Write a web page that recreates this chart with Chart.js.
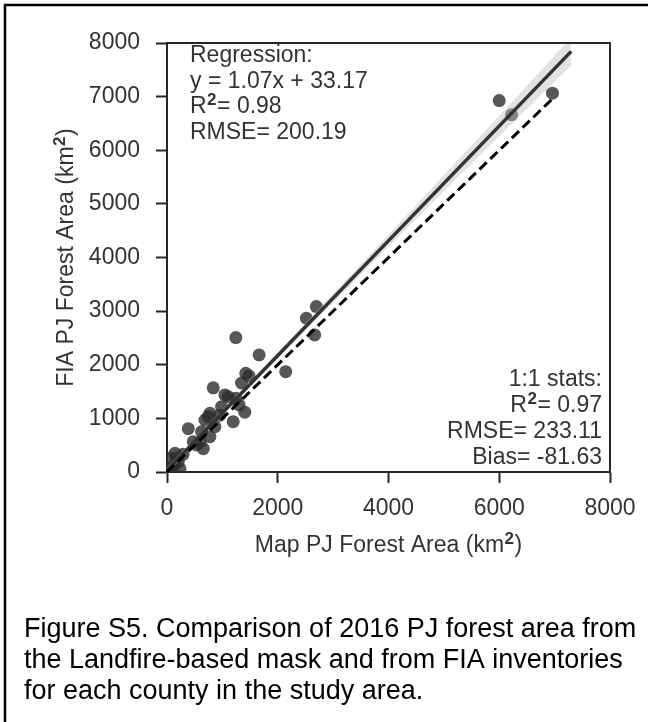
<!DOCTYPE html>
<html>
<head>
<meta charset="utf-8">
<script src="https://cdn.jsdelivr.net/npm/chart.js@4.4.1/dist/chart.umd.min.js"></script>
<style>
  html, body { margin: 0; padding: 0; background: #fff; }
  #wrap { width: 648px; height: 722px; position: relative; }
</style>
</head>
<body>
<div id="wrap"><canvas id="figS5"></canvas></div>
<script>
// county values (km2)
const mapArea = [40, 54, 114, 144, 170, 204, 234, 290, 384, 474, 535, 600, 625, 655, 685, 745, 775, 775, 835, 865,
  950, 985, 1045, 1105, 1195, 1243, 1243, 1303, 1345, 1405, 1423, 1483, 1664, 2144, 2517, 2667, 2697, 6000, 6222, 6961];
const fiaArea = [60, 255, 99, 349, 260, 193, 60, 330, 808, 566, 504, 560, 752, 435, 970, 1032, 1095, 659, 1570, 846,
  1060, 1219, 1437, 1405, 939, 1375, 2506, 1250, 1660, 1115, 1841, 1791, 2183, 1871, 2867, 2556, 3084, 6927, 6660, 7065];

// fitted line y = 1.07x + 33.17 and its confidence band
const regX = [0, 7300];
const regY = [33, 7844];
const bandX = [0, 1000, 2000, 3000, 4000, 5000, 6000, 7300];
const bandUpper = [98, 1148, 2228, 3323, 4423, 5533, 6643, 8104];
const bandLower = [-32, 1058, 2118, 3163, 4203, 5233, 6263, 7584];
const oneToOne = [0, 7000];

const xTicks = [0, 2000, 4000, 6000, 8000];
const yTicks = [0, 1000, 2000, 3000, 4000, 5000, 6000, 7000, 8000];
const xTitle = 'Map PJ Forest Area (km\u00b2)';
const yTitle = 'FIA PJ Forest Area (km\u00b2)';
const regressionStats = ['Regression:', 'y = 1.07x + 33.17', 'R\u00b2= 0.98', 'RMSE= 200.19'];
const oneToOneStats = ['1:1 stats:', 'R\u00b2= 0.97', 'RMSE= 233.11', 'Bias= -81.63'];
const captionLines = [
  'Figure S5. Comparison of 2016 PJ forest area from',
  'the Landfire-based mask and from FIA inventories',
  'for each county in the study area.'
];

const FONT = "'Liberation Sans', Arial, sans-serif";
const INK = '#262626';
const SIZE = 23;

const pairs = (xs, ys) => xs.map((x, i) => ({ x: x, y: ys[i] }));

// text with a bold raised "2" in place of the superscript sign
function drawRich(ctx, text, x, y, align) {
  const parts = text.split('\u00b2');
  const normal = SIZE + 'px ' + FONT;
  const sup = 'bold ' + Math.round(SIZE * 0.72) + 'px ' + FONT;
  let total = 0;
  parts.forEach((p, i) => {
    ctx.font = normal; total += ctx.measureText(p).width;
    if (i < parts.length - 1) { ctx.font = sup; total += ctx.measureText('2').width + 1; }
  });
  let cx = align === 'right' ? x - total : align === 'center' ? x - total / 2 : x;
  ctx.textAlign = 'left';
  ctx.textBaseline = 'middle';
  parts.forEach((p, i) => {
    ctx.font = normal; ctx.fillText(p, cx, y); cx += ctx.measureText(p).width;
    if (i < parts.length - 1) {
      ctx.font = sup; ctx.fillText('2', cx + 0.5, y - SIZE * 0.3); cx += ctx.measureText('2').width + 1;
    }
  });
}

// frame, top/right spines, axis titles, stats text and caption
const decorations = {
  id: 'decorations',
  afterDraw(chart) {
    const { ctx, chartArea } = chart;
    ctx.save();
    ctx.strokeStyle = INK;
    ctx.lineWidth = 2;
    ctx.beginPath();
    ctx.moveTo(chartArea.left, chartArea.top);
    ctx.lineTo(chartArea.right, chartArea.top);
    ctx.lineTo(chartArea.right, chartArea.bottom);
    ctx.stroke();

    ctx.fillStyle = '#333';
    regressionStats.forEach((t, i) => drawRich(ctx, t, chartArea.left + 23, chartArea.top + 13 + i * 25.5, 'left'));
    oneToOneStats.forEach((t, i) => drawRich(ctx, t, chartArea.right - 8, chartArea.bottom - 14 - (3 - i) * 26, 'right'));

    drawRich(ctx, xTitle, (chartArea.left + chartArea.right) / 2, 546, 'center');
    ctx.save();
    ctx.translate(67, (chartArea.top + chartArea.bottom) / 2);
    ctx.rotate(-Math.PI / 2);
    drawRich(ctx, yTitle, 0, 0, 'center');
    ctx.restore();

    ctx.strokeStyle = '#000';
    ctx.lineWidth = 2.5;
    ctx.strokeRect(5, 5, 700, 800);

    ctx.fillStyle = '#000';
    ctx.font = '27px ' + FONT;
    ctx.textAlign = 'left';
    ctx.textBaseline = 'alphabetic';
    captionLines.forEach((t, i) => ctx.fillText(t, 24, 637 + i * 31));
    ctx.restore();
  }
};

const axisStyle = (ticks, tickPad) => ({
  type: 'linear',
  min: 0,
  max: 8000,
  afterBuildTicks: (scale) => { scale.ticks = ticks.map(v => ({ value: v })); },
  ticks: { color: '#333', font: { family: FONT, size: SIZE }, padding: tickPad, callback: (v) => String(v) },
  grid: { display: true, drawOnChartArea: false, drawTicks: true, tickLength: 11, tickColor: INK, tickWidth: 2 },
  border: { display: true, color: INK, width: 2 },
  title: { display: false }
});

const xScale = axisStyle(xTicks, 12);
xScale.afterFit = (scale) => { scale.height = 104; };
const yScale = axisStyle(yTicks, 16);
yScale.afterFit = (scale) => { scale.width = 167; };

new Chart(document.getElementById('figS5'), {
  type: 'scatter',
  data: {
    datasets: [
      {
        label: 'counties',
        data: pairs(mapArea, fiaArea),
        backgroundColor: 'rgba(45, 45, 45, 0.8)',
        borderWidth: 0,
        pointRadius: 6.5,
        order: 4
      },
      {
        label: 'band lower',
        type: 'line',
        data: pairs(bandX, bandLower),
        borderWidth: 0,
        pointRadius: 0,
        fill: false,
        order: 3
      },
      {
        label: 'band upper',
        type: 'line',
        data: pairs(bandX, bandUpper),
        borderWidth: 0,
        pointRadius: 0,
        backgroundColor: 'rgba(190, 190, 190, 0.45)',
        fill: '-1',
        order: 3
      },
      {
        label: 'regression',
        type: 'line',
        data: pairs(regX, regY),
        borderColor: '#333',
        borderWidth: 3.5,
        pointRadius: 0,
        order: 2
      },
      {
        label: '1:1',
        type: 'line',
        data: pairs(oneToOne, oneToOne),
        borderColor: '#000',
        borderWidth: 3,
        borderDash: [10, 5],
        pointRadius: 0,
        order: 1
      }
    ]
  },
  options: {
    responsive: true,
    maintainAspectRatio: false,
    animation: false,
    layout: { padding: { left: 0, top: 43, right: 38, bottom: 146 } },
    plugins: { legend: { display: false }, tooltip: { enabled: false } },
    scales: { x: xScale, y: yScale }
  },
  plugins: [decorations]
});
</script>
</body>
</html>
